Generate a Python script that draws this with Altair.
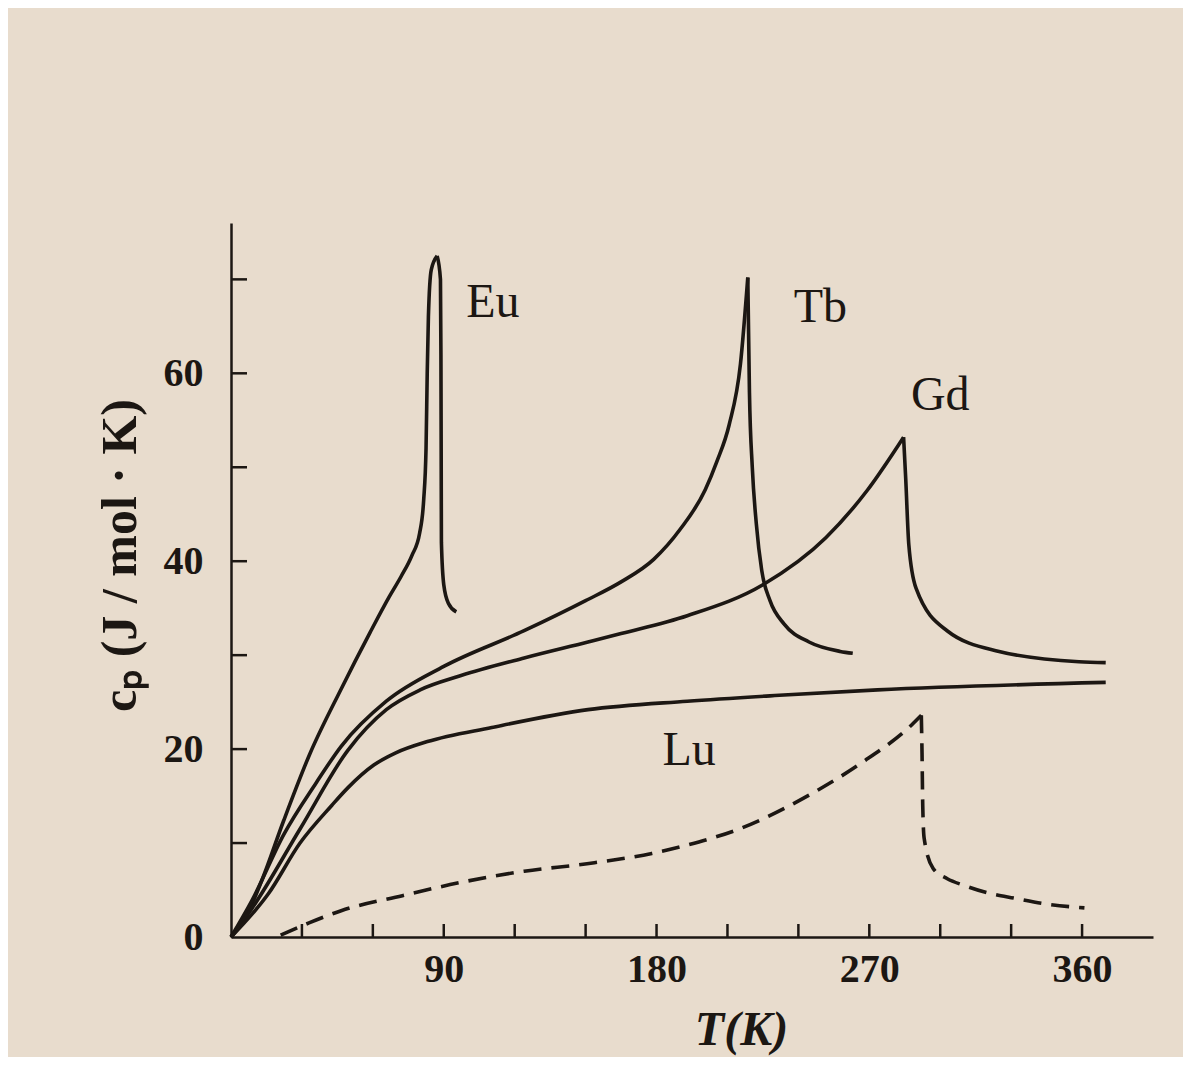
import altair as alt
import pandas as pd

# ---- data (T in K, cp in J/mol·K) ----
eu_rise_T = [0, 6, 13, 22.3, 33.2, 46.6, 58.8, 66.9, 72, 76.5, 79.8, 81.5, 82.5, 83.0, 83.5, 84.7, 87.2]
eu_rise_cp = [0, 2.0, 6.0, 12.4, 19.4, 26.4, 32.4, 36.2, 38.4, 40.6, 43.0, 46.5, 52.0, 60.0, 66.0, 71.0, 72.5]
eu_fall_T = [87.2, 88.6, 88.8, 88.9, 89.0, 90.0, 92.0, 95.3]
eu_fall_cp = [72.5, 70.0, 62.0, 52.0, 42.0, 37.5, 35.5, 34.6]

tb_rise_T = [0, 8.9, 22.3, 36, 46.6, 65.7, 90, 124, 150, 165, 178.8, 190, 200.6, 205.5, 210.7, 215.5, 218.6]
tb_rise_cp = [0, 3.9, 10.9, 16.4, 20.3, 25.1, 28.8, 32.6, 35.8, 37.8, 40.2, 43.4, 47.6, 50.6, 54.5, 61.0, 70.2]
tb_fall_T = [218.6, 219.3, 220.5, 222.2, 224.5, 228, 234, 244.5, 257.7, 263]
tb_fall_cp = [70.2, 58.0, 50.0, 44.0, 39.0, 35.8, 33.3, 31.4, 30.4, 30.2]

gd_rise_T = [0, 9, 29.2, 49.5, 65.7, 80, 97, 124, 151, 165, 193, 225, 251.6, 269, 284.5]
gd_rise_cp = [0, 3.1, 11.5, 19.9, 24.2, 26.3, 27.8, 29.7, 31.4, 32.3, 34.2, 37.5, 42.5, 47.5, 53.2]
gd_fall_T = [284.5, 285.4, 286.7, 289.8, 302.9, 324.9, 358.7, 370]
gd_fall_cp = [53.2, 48.8, 41.8, 37.1, 32.6, 30.4, 29.3, 29.2]

lu_T = [0, 15.8, 29.2, 42.6, 49.5, 60.4, 69.7, 83.1, 110.3, 151, 193, 230, 273.5, 370]
lu_cp = [0, 4.6, 10.0, 14.0, 15.9, 18.3, 19.6, 20.8, 22.3, 24.2, 25.1, 25.7, 26.3, 27.1]

mag_rise_T = [21, 33, 46.6, 72.5, 97, 124, 150.6, 178, 193, 215, 244.5, 266.5, 288, 292]
mag_rise_cp = [0.2, 1.5, 2.8, 4.4, 5.8, 7.0, 7.8, 8.9, 9.8, 11.5, 15.1, 18.5, 22.6, 23.6]
mag_fall_T = [292, 292.3, 292.6, 293.2, 297, 303, 310, 320, 332, 345, 361]
mag_fall_cp = [23.6, 19.6, 14.0, 10.5, 7.3, 6.2, 5.5, 4.7, 4.1, 3.5, 3.1]

label_text = ["Eu", "Tb", "Gd", "Lu"]
label_T = [99.5, 238, 287.6, 182.5]
label_cp = [67.5, 67.0, 57.6, 19.8]

y_label_values = [0, 20, 40, 60]
x_label_values = [90, 180, 270, 360]
y_tick_values = [10, 20, 30, 40, 50, 60, 70]
x_tick_values = [30, 60, 90, 120, 150, 180, 210, 240, 270, 300, 330, 360]

rows = []
def add(seg, Ts, cps):
    for i, (t, c) in enumerate(zip(Ts, cps)):
        rows.append({"seg": seg, "T": t, "cp": c, "i": i})

add("Eu_rise", eu_rise_T, eu_rise_cp)
add("Eu_fall", eu_fall_T, eu_fall_cp)
add("Tb_rise", tb_rise_T, tb_rise_cp)
add("Tb_fall", tb_fall_T, tb_fall_cp)
add("Gd_rise", gd_rise_T, gd_rise_cp)
add("Gd_fall", gd_fall_T, gd_fall_cp)
add("Lu", lu_T, lu_cp)
solid = pd.DataFrame(rows)

rows = []
add("mag_rise", mag_rise_T, mag_rise_cp)
add("mag_fall", mag_fall_T, mag_fall_cp)
dashed = pd.DataFrame(rows)

labels = pd.DataFrame({"T": label_T, "cp": label_cp, "text": label_text})
yt = pd.DataFrame({"v": y_tick_values})
xt = pd.DataFrame({"v": x_tick_values})

INK = "#1c1713"
BG = "#e8dccd"
W, H = 922, 714
SERIF = "Liberation Serif"

xs = alt.Scale(domain=[0, 390], nice=False, zero=False)
ys = alt.Scale(domain=[0, 76], nice=False, zero=False)

x_axis = alt.Axis(values=x_label_values, title="T(K)", titleFontStyle="italic",
                  titleX=510, titleY=93, titleAlign="center", titleBaseline="middle",
                  titleFontSize=48, labelPadding=12, labelFlush=False)
y_axis = alt.Axis(values=y_label_values, title="cₚ (J / mol · K)", titleAngle=270,
                  titleX=-111, titleY=332, titleAlign="center", titleBaseline="middle",
                  titleFontSize=50, labelPadding=28)

lines = alt.Chart(solid).mark_line(color=INK, strokeWidth=3.6, interpolate="monotone").encode(
    x=alt.X("T:Q", scale=xs, axis=x_axis),
    y=alt.Y("cp:Q", scale=ys, axis=y_axis),
    detail="seg:N",
    order="i:Q",
)

dash = alt.Chart(dashed).mark_line(color=INK, strokeWidth=3.6, strokeDash=[18, 10],
                                   interpolate="monotone").encode(
    x=alt.X("T:Q", scale=xs),
    y=alt.Y("cp:Q", scale=ys),
    detail="seg:N",
    order="i:Q",
)

text = alt.Chart(labels).mark_text(font=SERIF, fontSize=48, align="left",
                                   baseline="middle", color=INK).encode(
    x=alt.X("T:Q", scale=xs),
    y=alt.Y("cp:Q", scale=ys),
    text="text:N",
)

ytick = alt.Chart(yt).mark_rule(color=INK, strokeWidth=2.5).encode(
    y=alt.Y("v:Q", scale=ys),
    x=alt.value(0),
    x2=alt.value(16),
)
xtick = alt.Chart(xt).mark_rule(color=INK, strokeWidth=2.5).encode(
    x=alt.X("v:Q", scale=xs),
    y=alt.value(H),
    y2=alt.value(H - 13),
)

chart = alt.layer(lines, dash, ytick, xtick, text).properties(
    width=W, height=H,
    autosize="none",
    padding={"left": 223, "top": 215, "right": 30, "bottom": 120},
    background=BG,
).configure_view(stroke=None, fill=BG).configure_axis(
    grid=False,
    ticks=False,
    domainColor=INK,
    domainWidth=2.5,
    labelFont=SERIF,
    labelFontSize=40,
    labelFontWeight="bold",
    labelColor=INK,
    titleFont=SERIF,
    titleFontWeight="bold",
    titleColor=INK,
)

chart.save("out.html", embed_options={"renderer": "svg", "actions": False})
